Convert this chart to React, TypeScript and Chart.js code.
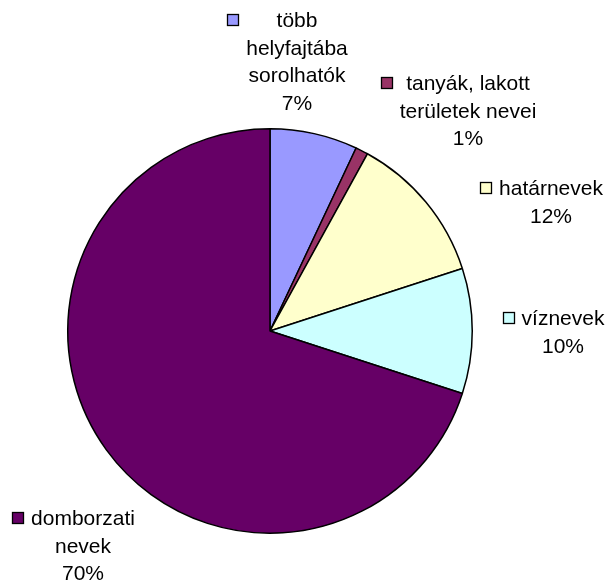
import React, { useEffect, useRef } from "react";
import { Chart, registerables } from "chart.js";

Chart.register(...registerables);

const categories = [
  "több\nhelyfajtába\nsorolhatók",
  "tanyák, lakott\nterületek nevei",
  "határnevek",
  "víznevek",
  "domborzati\nnevek",
];
const values = [7, 1, 12, 10, 70];
const colors = ["#9999FF", "#993366", "#FFFFCC", "#CCFFFF", "#660066"];

// label block placement: center x of text lines, first baseline y
const labelLayout = [
  { cx: 297, y: 27 },
  { cx: 468, y: 90 },
  { cx: 551, y: 195 },
  { cx: 563, y: 325 },
  { cx: 83, y: 525 },
];

const FONT = "21px 'Liberation Sans', Arial, sans-serif";
const LINE_H = 27.7;

const labelPlugin = {
  id: "pieLabels",
  afterDraw(chart: any) {
    const ctx = chart.ctx;
    const data = chart.data.datasets[0].data as number[];
    const total = data.reduce((a, b) => a + b, 0);
    ctx.save();
    ctx.font = FONT;
    ctx.fillStyle = "#000";
    ctx.textBaseline = "alphabetic";
    ctx.textAlign = "center";
    chart.data.labels.forEach((lab: string, i: number) => {
      const lines = lab.split("\n");
      lines.push(Math.round((data[i] / total) * 100) + "%");
      const L = labelLayout[i];
      let maxW = 0;
      lines.forEach((ln) => {
        maxW = Math.max(maxW, ctx.measureText(ln).width);
      });
      lines.forEach((ln, k) => {
        ctx.fillText(ln, L.cx, L.y + k * LINE_H);
      });
      // legend key
      const sx = Math.round(L.cx - maxW / 2 - 7 - 12);
      const sy = L.y - 13;
      ctx.fillStyle = colors[i];
      ctx.fillRect(sx, sy, 12, 12);
      ctx.strokeStyle = "#000";
      ctx.lineWidth = 1.3;
      ctx.strokeRect(sx + 0.5, sy + 0.5, 11, 11);
      ctx.fillStyle = "#000";
    });
    ctx.restore();
  },
};

export default function App() {
  const ref = useRef<HTMLCanvasElement | null>(null);
  useEffect(() => {
    document.body.style.margin = "0";
    const c = new Chart(ref.current!, {
      type: "pie",
      data: {
        labels: categories,
        datasets: [
          {
            data: values,
            backgroundColor: colors,
            borderColor: "#000",
            borderWidth: 1.5,
          },
        ],
      },
      options: {
        animation: false,
        responsive: false,
        layout: { padding: { left: 67, right: 133, top: 128, bottom: 50 } },
        plugins: {
          legend: { display: false },
          tooltip: { enabled: false },
        },
      },
      plugins: [labelPlugin],
    });
    return () => c.destroy();
  }, []);
  return (
    <div style={{ width: 606, height: 584, background: "#fff" }}>
      <canvas ref={ref} width={606} height={584} />
    </div>
  );
}
